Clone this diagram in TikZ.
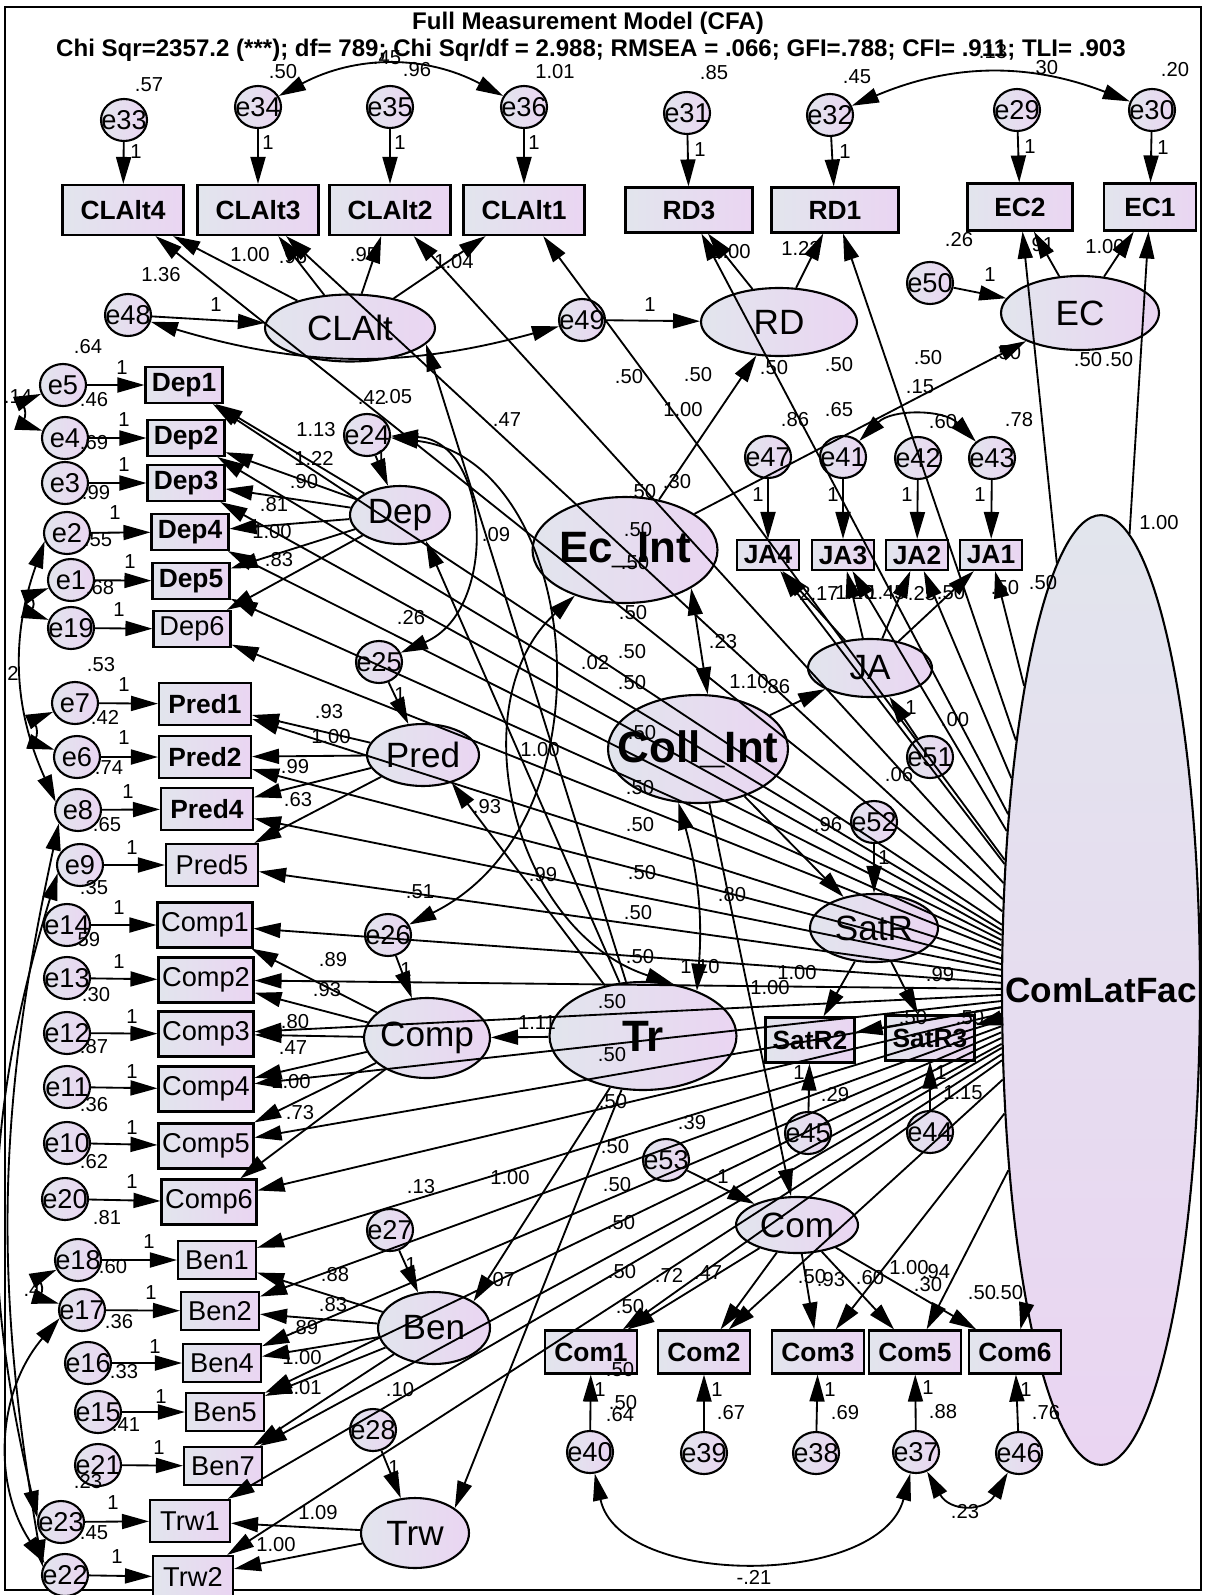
\documentclass[tikz,border=0pt]{standalone}
\usepackage{fontspec}
\setmainfont{Liberation Sans}
\usetikzlibrary{arrows.meta,shapes.geometric}
\definecolor{fillA}{HTML}{E2E5ED}
\definecolor{fillB}{HTML}{EAD5F2}
\newcommand{\nowd}[1]{\makebox[0pt]{#1}}

\begin{document}
\begin{tikzpicture}[x=0.02cm, y=-0.02cm]
\tikzset{err/.style = {ellipse, draw, line width=1.2pt, left color=fillA, right color=fillB, minimum width=0.92cm, minimum height=0.84cm, inner sep=0pt, font=\fontsize{15.5}{15.5}\selectfont}}
\tikzset{obs/.style = {rectangle, draw, line width=1.2pt, left color=fillA, right color=fillB, inner sep=0pt, font=\fontsize{15}{15}\selectfont\bfseries}}
\tikzset{obsr/.style = {obs, font=\fontsize{15.5}{15.5}\selectfont}}
\tikzset{lat/.style = {ellipse, draw, line width=1.2pt, left color=fillA, right color=fillB, inner sep=0pt, font=\fontsize{20}{20}\selectfont}}
\tikzset{latb/.style = {lat, font=\fontsize{25}{25}\selectfont\bfseries}}
\tikzset{num/.style = {inner sep=0pt, font=\fontsize{11.5}{11.5}\selectfont}}
\tikzset{arr/.style = {draw, line width=1.05pt, -{Triangle[length=0.54cm, width=0.3cm]}}}
\tikzset{cov/.style = {draw, line width=1.05pt, {Triangle[length=0.54cm, width=0.3cm]}-{Triangle[length=0.54cm, width=0.3cm]}}}

\useasboundingbox (0,0) rectangle (1205,1595);
\draw[line width=1.2pt] (5,7) rectangle (1201,1590);

% Title and fit line
\node[font=\fontsize{13.7}{14}\selectfont\bfseries] (title) at (588,23) {Full Measurement Model (CFA)};
\node[font=\fontsize{13.7}{14}\selectfont\bfseries] (fit) at (591,50) {Chi Sqr=2357.2 (***); df= 789; Chi Sqr/df = 2.988; RMSEA = .066; GFI=.788; CFI= .911; TLI= .903};

% Define the latent factors
\foreach \n/\t/\x/\y/\w/\h in {clalt/CLAlt/350/328/3.4cm/1.34cm, rd/RD/779/322/3.12cm/1.36cm, ec/EC/1080/313/3.16cm/1.48cm,
    dep/Dep/400/515/2.0cm/1.16cm, pred/Pred/423/755/2.24cm/1.24cm, comp/Comp/427/1038/2.52cm/1.6cm,
    ben/Ben/434/1328/2.24cm/1.44cm, trw/Trw/415/1533/2.16cm/1.4cm, ja/JA/870/668/2.48cm/1.16cm,
    satr/SatR/874/928/2.56cm/1.36cm, com/Com/797/1225/2.44cm/1.12cm}
  \node[lat, minimum width=\w, minimum height=\h] (\n) at (\x,\y) {\nowd{\t}};
\node[latb, minimum width=3.7cm, minimum height=2.12cm] (ecint) at (625,550) {\nowd{Ec\_Int}};
\node[latb, minimum width=3.6cm, minimum height=2.16cm] (collint) at (698,749) {\nowd{Coll\_Int}};
\node[latb, minimum width=3.74cm, minimum height=2.16cm] (tr) at (643,1036) {\nowd{Tr}};
\node[ellipse, draw, line width=1.2pt, top color=fillA, bottom color=fillB, minimum width=3.96cm, minimum height=19cm, inner sep=0pt,
  font=\fontsize{20}{20}\selectfont\bfseries] (clf) at (1101,990) {\nowd{ComLatFac}};

% Define the indicators
\foreach \n/\t/\x/\y in {clalt4/CLAlt4/123/210, clalt3/CLAlt3/258/210, clalt2/CLAlt2/390/210, clalt1/CLAlt1/524/210}
  \node[obs, minimum width=2.42cm, minimum height=1.0cm] (\n) at (\x,\y) {\t};
\foreach \n/\t/\x/\y in {rd3/RD3/689/210, rd1/RD1/835/210}
  \node[obs, minimum width=2.54cm, minimum height=0.9cm] (\n) at (\x,\y) {\t};
\node[obs, minimum width=2.1cm, minimum height=0.94cm] (ec2) at (1020,207) {EC2};
\node[obs, minimum width=1.84cm, minimum height=0.94cm] (ec1) at (1150,207) {EC1};
\foreach \n/\t/\x/\y in {dep1/Dep1/184/385, dep2/Dep2/186/438, dep3/Dep3/186/483, dep4/Dep4/190/532, dep5/Dep5/191/581}
  \node[obs, minimum width=1.54cm, minimum height=0.72cm] (\n) at (\x,\y) {\t};
\node[obsr, minimum width=1.54cm, minimum height=0.72cm] (dep6) at (192,629) {Dep6};
\foreach \n/\t/\x/\y in {pred1/Pred1/205/704, pred2/Pred2/205/757, pred4/Pred4/207/809}
  \node[obs, minimum width=1.84cm, minimum height=0.84cm] (\n) at (\x,\y) {\t};
\node[obsr, minimum width=1.84cm, minimum height=0.84cm] (pred5) at (212,865) {Pred5};
\foreach \n/\t/\x/\y in {comp1/Comp1/205/925, comp2/Comp2/206/980, comp3/Comp3/206/1034, comp4/Comp4/206/1089, comp5/Comp5/206/1146, comp6/Comp6/209/1202}
  \node[obsr, minimum width=1.9cm, minimum height=0.9cm] (\n) at (\x,\y) {\t};
\foreach \n/\t/\x/\y in {ben1/Ben1/217/1260, ben2/Ben2/220/1311, ben4/Ben4/222/1363, ben5/Ben5/225/1412, ben7/Ben7/223/1466}
  \node[obsr, minimum width=1.56cm, minimum height=0.76cm] (\n) at (\x,\y) {\t};
\foreach \n/\t/\x/\y in {trw1/Trw1/190/1521, trw2/Trw2/193/1577}
  \node[obsr, minimum width=1.6cm, minimum height=0.84cm] (\n) at (\x,\y) {\t};
\foreach \n/\t/\x/\y in {ja4/JA4/768/555, ja3/JA3/843/555, ja2/JA2/917/555, ja1/JA1/991/555}
  \node[obs, minimum width=1.24cm, minimum height=0.6cm] (\n) at (\x,\y) {\t};
\foreach \n/\t/\x/\y in {satr2/SatR2/810/1040, satr3/SatR3/930/1038}
  \node[obs, minimum width=1.78cm, minimum height=0.9cm] (\n) at (\x,\y) {\t};
\foreach \n/\t/\x/\y in {com1/Com1/591/1352, com2/Com2/704/1352, com3/Com3/818/1352, com5/Com5/915/1352, com6/Com6/1015/1352}
  \node[obs, minimum width=1.84cm, minimum height=0.86cm] (\n) at (\x,\y) {\t};

% Define the error terms
\foreach \n/\x/\y in {e33/124/120, e34/258/107, e35/390/107, e36/524/107, e31/687/113, e32/830/115, e29/1017/110, e30/1152/110,
    e48/128/315, e49/582/320, e50/930/283, e5/63/385, e4/65/438, e3/65/483, e2/67/533, e1/71/580, e19/71/628,
    e24/367/435, e25/379/662, e7/75/703, e6/77/757, e8/78/810, e9/80/865, e14/67/925, e13/67/978, e12/67/1033,
    e11/67/1087, e10/67/1143, e20/65/1199, e26/388/935, e18/78/1260, e17/82/1310, e16/88/1363, e15/98/1412,
    e21/98/1465, e27/390/1230, e23/61/1522, e22/65/1575, e28/373/1430, e47/768/457, e41/843/457, e42/918/458,
    e43/992/458, e51/930/757, e52/874/822, e45/808/1133, e44/930/1132, e53/666/1160, e40/590/1452, e39/704/1453,
    e38/816/1453, e37/916/1452, e46/1019/1453}
  \node[err] (\n) at (\x,\y) {\nowd{\n}};

% Draw the loadings
\foreach \a/\b in {clalt/clalt4, clalt/clalt3, clalt/clalt2, clalt/clalt1, rd/rd3, rd/rd1, ec/ec2, ec/ec1,
    dep/dep1, dep/dep2, dep/dep3, dep/dep4, dep/dep5, dep/dep6, pred/pred1, pred/pred2, pred/pred4, pred/pred5,
    comp/comp1, comp/comp2, comp/comp3, comp/comp4, comp/comp5, comp/comp6, ben/ben1, ben/ben2, ben/ben4,
    ben/ben5, ben/ben7, trw/trw1, trw/trw2, ja/ja4, ja/ja3, ja/ja2, ja/ja1, satr/satr2, satr/satr3,
    com/com1, com/com2, com/com3, com/com5, com/com6}
  \draw[arr] (\a) -- (\b);

% Draw the error paths
\foreach \a/\b in {e33/clalt4, e34/clalt3, e35/clalt2, e36/clalt1, e31/rd3, e32/rd1, e29/ec2, e30/ec1,
    e47/ja4, e41/ja3, e42/ja2, e43/ja1, e5/dep1, e4/dep2, e3/dep3, e2/dep4, e1/dep5, e19/dep6,
    e7/pred1, e6/pred2, e8/pred4, e9/pred5, e14/comp1, e13/comp2, e12/comp3, e11/comp4, e10/comp5, e20/comp6,
    e18/ben1, e17/ben2, e16/ben4, e15/ben5, e21/ben7, e23/trw1, e22/trw2, e45/satr2, e44/satr3,
    e40/com1, e39/com2, e38/com3, e37/com5, e46/com6,
    e48/clalt, e49/rd, e50/ec, e24/dep, e25/pred, e26/comp, e27/ben, e28/trw, e51/ja, e52/satr, e53/com}
  \draw[arr] (\a) -- (\b);

% Draw the common latent factor paths
\foreach \b in {clalt4, clalt3, clalt2, clalt1, rd3, rd1, ec2, ec1, ja4, ja3, ja2, ja1,
    dep1, dep2, dep3, dep4, dep5, dep6, pred1, pred2, pred4, pred5, comp1, comp2, comp3, comp4, comp5, comp6,
    ben1, ben2, ben4, ben5, ben7, trw1, trw2, satr2, satr3, com1, com2, com3, com5, com6}
  \draw[arr] (clf) -- (\b);

% Draw the structural paths
\draw[arr] (tr) -- (clalt.-12);
\draw[arr] (tr) -- (dep.-45);
\draw[arr] (tr) -- (pred.-44);
\draw[arr] (tr) -- (comp);
\draw[arr] (tr) -- (ben.34);
\draw[arr] (tr) -- (trw.32);
\draw[arr] (ecint) -- (rd);
\draw[arr] (ecint) -- (ec);
\draw[arr] (collint) -- (ja);
\draw[arr] (collint) -- (satr);
\draw[arr] (collint) -- (com);

% Draw the covariances
\draw[cov] (e34) to[bend left=28] (e36);
\draw[cov] (e32) to[bend left=22] (e30);
\draw[cov] (e41) to[bend left=45] (e43);
\draw[cov] (e48) to[bend right=16] (e49);
\draw[cov] (ecint.-30) -- (collint.80);
\draw[cov] (collint.-110) to[bend left=10] (tr.40);
\draw[cov] (ecint) .. controls (460,700) and (510,930) .. (tr.60);
\draw[cov] (e24) .. controls (490,440) and (500,610) .. (e25);
\draw[cov] (e24) .. controls (580,460) and (620,820) .. (e26);
\draw[cov] (e5) to[bend right=70] (e4);
\draw[cov] (e1) to[bend right=70] (e19);
\draw[cov] (e7) to[bend right=70] (e6);
\draw[cov] (e18) to[bend right=70] (e17);
\draw[cov] (e2.200) to[bend right=22] (e8.160);
\draw[cov] (e8.215) to[bend right=11] (e22.160);
\draw[cov] (e9.200) to[bend right=15] (e23.170);
\draw[cov] (e17.200) to[bend right=37] (e22.150);
\draw[cov] (e40) .. controls (620,1588) and (880,1588) .. (e37);
\draw[cov] (e37) .. controls (950,1512) and (985,1512) .. (e46);

% Estimates
\foreach \x/\y/\t [count=\i] in {149/85/.57, 283/72/.50, 387/58/.45, 417/70/.96, 555/72/1.01, 714/73/.85, 857/77/.45,
    993/52/.13, 1044/68/.30, 1175/70/.20,
    136/152/1, 268/143/1, 400/143/1, 534/143/1, 700/150/1, 845/152/1, 1030/147/1, 1163/148/1,
    250/255/1.00, 293/257/.96, 364/255/.95, 454/262/1.04, 161/275/1.36, 216/305/1, 88/347/.64,
    731/252/1.00, 801/248/1.22, 959/240/.26, 1040/245/.91, 1105/247/1.00, 990/275/1, 650/305/1,
    928/358/.50, 1007/353/.50, 1088/360/.50, 1119/360/.50, 839/365/.50, 774/368/.50, 698/375/.50, 629/377/.50, 920/387/.15,
    683/410/1.00, 795/420/.86, 839/410/.65, 943/422/.60, 1019/420/.78, 677/482/.30, 642/492/.50, 1159/523/1.00,
    758/495/1, 833/495/1, 907/495/1, 980/495/1,
    819/593/2.17, 855/593/1.20, 886/593/1.45, 922/594/.25, 951/593/.50, 1005/588/.50, 1043/583/.50,
    638/530/.50, 635/563/.50, 633/613/.50, 632/652/.50, 632/683/.50, 595/663/.02, 642/733/.50,
    723/642/.23, 749/682/1.10, 776/687/.86, 955/720/.00, 911/708/1, 899/775/.06,
    18/397/.14, 372/397/.42, 398/397/.05, 316/430/1.13, 314/458/1.22, 304/482/.90, 274/505/.81, 272/532/1.00,
    279/560/.83, 381/458/1, 496/535/.09, 507/420/.47, 411/618/.26,
    122/368/1, 124/420/1, 124/465/1, 115/513/1, 130/562/1, 119/610/1,
    94/400/.46, 94/443/.69, 96/493/.99, 98/540/.55, 100/588/.68, 101/665/.53, 13/673/2,
    124/685/1, 124/738/1, 128/792/1, 132/848/1, 105/717/.42, 109/768/.74, 107/825/.65, 94/888/.35,
    400/695/1, 329/712/.93, 331/737/1.00, 295/767/.99, 540/750/1.00, 298/800/.63, 487/807/.93, 543/875/.99, 420/892/.51,
    119/908/1, 119/962/1, 132/1017/1, 132/1072/1, 132/1128/1, 132/1182/1,
    86/940/.59, 96/995/.30, 94/1047/.87, 94/1105/.36, 94/1162/.62, 107/1218/.81,
    333/960/.89, 327/990/.93, 406/970/1, 295/1022/.80, 293/1048/.47, 291/1082/1.00, 300/1113/.73, 537/1023/1.11,
    421/1187/.13, 510/1178/1.00,
    640/788/.50, 640/825/.50, 642/873/.50, 638/913/.50, 640/957/.50, 612/1002/.50, 612/1055/.50, 613/1102/.50,
    692/1123/.39, 615/1147/.50, 617/1185/.50,
    828/825/.96, 884/858/1, 732/895/.80, 700/967/1.10, 797/973/1.00, 770/988/1.00, 940/975/.99, 913/1018/.50,
    970/1018/.50, 799/1073/1, 835/1095/.29, 941/1073/1, 963/1093/1.15, 723/1177/1,
    149/1242/1, 151/1293/1, 155/1347/1, 161/1397/1, 159/1448/1, 113/1503/1, 117/1557/1,
    113/1267/.60, 119/1322/.36, 124/1372/.33, 126/1425/.41, 88/1482/.23, 94/1533/.45, 32/1290/.4,
    411/1265/1, 335/1275/.88, 333/1305/.83, 304/1328/.89, 302/1358/1.00, 302/1388/1.01, 400/1390/.10, 501/1280/.07,
    394/1468/1, 318/1513/1.09, 276/1545/1.00,
    621/1223/.50, 622/1272/.50, 630/1307/.50, 669/1275/.72, 708/1273/.47, 812/1277/.50, 831/1280/.93, 870/1278/.60,
    909/1268/1.00, 936/1272/.94, 928/1285/.30, 982/1293/.50, 1009/1293/.50,
    620/1370/.50, 623/1403/.50, 620/1415/.64, 600/1390/1, 717/1390/1, 830/1390/1, 928/1388/1, 1026/1390/1,
    731/1413/.67, 845/1413/.69, 943/1412/.88, 1046/1413/.76, 754/1577/-.21, 965/1512/.23}
  \node[num] (n\i) at (\x,\y) {\t};

\end{tikzpicture}
\end{document}
